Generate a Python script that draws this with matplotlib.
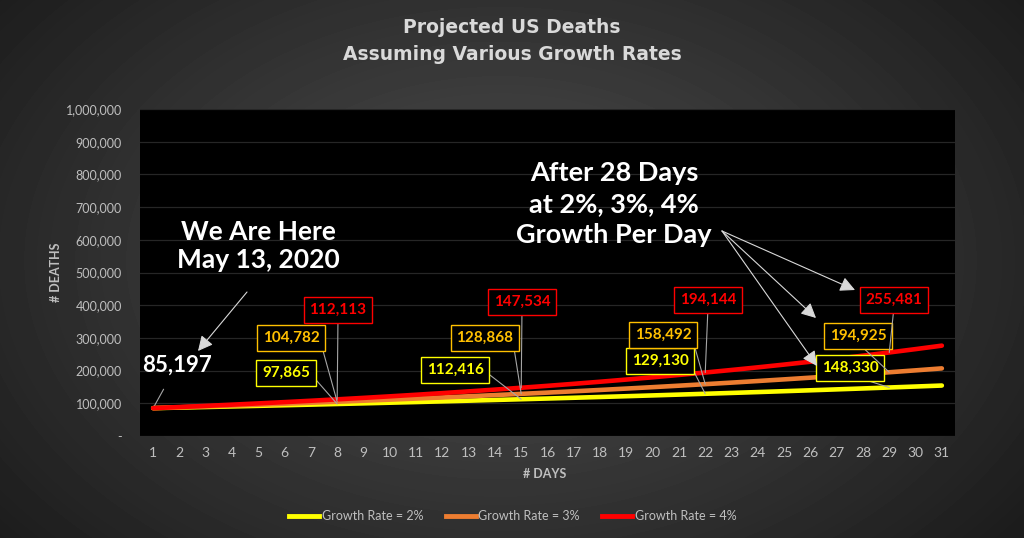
import numpy as np
import matplotlib
matplotlib.use("Agg")
import matplotlib.pyplot as plt
from matplotlib.lines import Line2D

# ---------------- data ----------------
days = list(range(1, 32))
growth_2 = [85197, 86901, 88639, 90412, 92220, 94065, 95946, 97865, 99822, 101818,
            103855, 105932, 108050, 110211, 112416, 114664, 116958, 119296, 121682, 124116,
            126598, 129130, 131714, 134348, 137035, 139775, 142570, 145421, 148330, 151296,
            154322]
growth_3 = [85197, 87753, 90386, 93097, 95890, 98767, 101730, 104782, 107925, 111163,
            114498, 117932, 121470, 125114, 128868, 132734, 136716, 140817, 145042, 149393,
            153875, 158492, 163246, 168144, 173188, 178384, 183735, 189247, 194925, 200773,
            206796]
growth_4 = [85197, 88605, 92149, 95835, 99668, 103655, 107801, 112113, 116597, 121261,
            126112, 131156, 136403, 141859, 147534, 153435, 159573, 165955, 172594, 179498,
            186678, 194144, 201910, 209986, 218385, 227121, 236206, 245654, 255481, 265700,
            276328]
series_names = ["Growth Rate = 2%", "Growth Rate = 3%", "Growth Rate = 4%"]
label_days = [8, 15, 22, 29]
y_ticks = list(range(0, 1000001, 100000))
y_tick_labels = ["-"] + [f"{v:,}" for v in y_ticks[1:]]

title = "Projected US Deaths\nAssuming Various Growth Rates"

# ---------------- style ----------------
W, H = 1024, 538
FONT = "Lato"
c_yellow = "#FFFF00"
c_orange_line = "#ED7D31"
c_orange_txt = "#FFC000"
c_red = "#FF0000"
c_gray = "#BFBFBF"

fig = plt.figure(figsize=(W / 100, H / 100), dpi=100)

def fx(px):
    return px / W

def fy(py):
    return 1 - py / H

# radial gradient background
bg = fig.add_axes([0, 0, 1, 1], zorder=-10)
yy, xx = np.mgrid[0:H, 0:W]
d = np.sqrt(((xx - 500) / 620.0) ** 2 + ((yy - 260) / 420.0) ** 2)
val = np.clip(0.31 - 0.19 * d, 0.11, 0.31)
bg.imshow(val, cmap="gray", vmin=0, vmax=1, aspect="auto", extent=[0, 1, 0, 1])
bg.axis("off")

ax = fig.add_axes([fx(140), fy(436), fx(955) - fx(140), (436 - 109) / H])
ax.set_facecolor("black")
for s in ax.spines.values():
    s.set_visible(False)

ax.plot(days, growth_2, color=c_yellow, lw=3.3, solid_capstyle="round", label=series_names[0], zorder=3)
ax.plot(days, growth_3, color=c_orange_line, lw=3.3, solid_capstyle="round", label=series_names[1], zorder=4)
ax.plot(days, growth_4, color=c_red, lw=3.3, solid_capstyle="round", label=series_names[2], zorder=5)

ax.set_xlim(0.5, 31.5)
ax.set_ylim(0, 1000000)
ax.set_yticks(y_ticks)
ax.set_yticklabels(y_tick_labels, fontfamily=FONT, fontsize=9, color=c_gray)
ax.set_xticks(days)
ax.set_xticklabels([str(d_) for d_ in days], fontfamily=FONT, fontsize=10, color=c_gray)
ax.tick_params(length=0, pad=8)
ax.tick_params(axis="y", pad=13)
ax.grid(axis="y", color="#262626", lw=0.9)
ax.set_axisbelow(True)

# axis titles
fig.text(fx(545), fy(474), "# DAYS", ha="center", va="center", fontfamily=FONT,
         fontweight="bold", fontsize=9, color=c_gray)
fig.text(fx(56), fy(272), "# DEATHS", ha="center", va="center", rotation=90,
         fontfamily=FONT, fontweight="bold", fontsize=9, color=c_gray)

# chart title
fig.text(fx(512), fy(41), title, ha="center", va="center", fontfamily="DejaVu Sans",
         fontweight="bold", fontsize=13.5, color="#D9D9D9", linespacing=1.55)

# big annotations
fig.text(fx(258), fy(246), "We Are Here\nMay 13, 2020", ha="center", va="center",
         fontfamily=FONT, fontweight="bold", fontsize=19, color="white", linespacing=1.25)
fig.text(fx(614), fy(204), "After 28 Days\nat 2%, 3%, 4%\nGrowth Per Day", ha="center",
         va="center", fontfamily=FONT, fontweight="bold", fontsize=19.5, color="white",
         linespacing=1.33)

# arrows (white heads)
arr = dict(arrowstyle="-|>,head_length=0.9,head_width=0.45", color="#D9D9D9", lw=0.8,
           shrinkA=0, shrinkB=0)
fig.add_artist(matplotlib.patches.FancyArrowPatch((fx(247), fy(292)), (fx(198), fy(351)),
               transform=fig.transFigure, mutation_scale=10, **arr))
for end in [(855, 290), (816, 318), (817, 366)]:
    fig.add_artist(matplotlib.patches.FancyArrowPatch((fx(722), fy(231)), (fx(end[0]), fy(end[1])),
                   transform=fig.transFigure, mutation_scale=10, **arr))

# starting value label
ax.annotate(f"{growth_2[0]:,}", xy=(days[0], growth_2[0]), xytext=(fx(177), fy(365)),
            textcoords="figure fraction", ha="center", va="center", fontfamily=FONT,
            fontweight="bold", fontsize=16, color="white",
            arrowprops=dict(arrowstyle="-", color="#A6A6A6", lw=0.8, shrinkA=9, shrinkB=0))

# boxed data labels: text center px and leader anchor
label_pos = {
    "4": [(338, 310), (522, 302), (708, 300), (894, 300)],
    "3": [(291, 338), (485, 338), (663, 335), (858, 336)],
    "2": [(286, 373), (455, 370), (660, 361), (850, 368)],
}
relposes = {
    "4": [(0.5, 0), (0.5, 0), (0.5, 0), (0.5, 0)],
    "3": [(1, 0.5), (1, 0), (1, 0.5), (0.5, 0)],
    "2": [(1, 0.5), (1, 0.5), (1, 0.5), (0.5, 0)],
}
specs = [("2", growth_2, c_yellow), ("3", growth_3, c_orange_txt), ("4", growth_4, c_red)]
for key, ser, col in specs:
    for i, dd in enumerate(label_days):
        v = ser[dd - 1]
        px, py = label_pos[key][i]
        ax.annotate(f"{v:,}", xy=(dd, v), xytext=(fx(px), fy(py)), textcoords="figure fraction",
                    ha="center", va="center", fontfamily=FONT, fontweight="bold", fontsize=11,
                    color=col, zorder=8,
                    bbox=dict(boxstyle="square,pad=0.38", fc="black", ec=col, lw=1.0),
                    arrowprops=dict(arrowstyle="-", color="#A6A6A6", lw=0.8,
                                    relpos=relposes[key][i], shrinkA=0, shrinkB=0))

# legend
handles = [Line2D([], [], color=c, lw=3.5) for c in (c_yellow, c_orange_line, c_red)]
leg = fig.legend(handles, series_names, loc="center", bbox_to_anchor=(fx(513), fy(516)),
                 ncol=3, frameon=False, handlelength=2.4, handletextpad=0.2,
                 columnspacing=1.8, prop=dict(family=FONT, size=9))
for t in leg.get_texts():
    t.set_color(c_gray)

fig.savefig("out.png", dpi=100, facecolor="#333333")
